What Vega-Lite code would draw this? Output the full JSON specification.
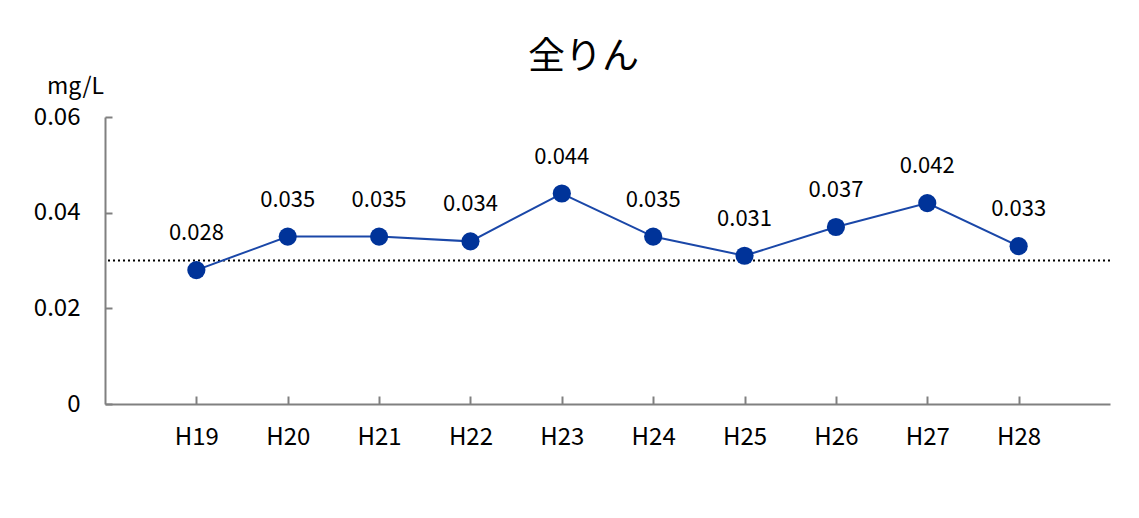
{
  "$schema": "https://vega.github.io/schema/vega-lite/v6.json",
  "width": 1005,
  "height": 287,
  "autosize": "none",
  "padding": {"left": 105, "top": 117, "right": 29, "bottom": 114},
  "background": "white",
  "config": {"view": {"stroke": null}, "font": "Noto Sans CJK JP"},
  "title": {"text": "全りん", "fontSize": 37, "fontWeight": "normal", "font": "Noto Sans CJK JP", "color": "black", "anchor": "middle", "dx": -24, "offset": -2},
  "data": {"values": [
    {"year": "H19", "value": 0.028},
    {"year": "H20", "value": 0.035},
    {"year": "H21", "value": 0.035},
    {"year": "H22", "value": 0.034},
    {"year": "H23", "value": 0.044},
    {"year": "H24", "value": 0.035},
    {"year": "H25", "value": 0.031},
    {"year": "H26", "value": 0.037},
    {"year": "H27", "value": 0.042},
    {"year": "H28", "value": 0.033}
  ]},
  "encoding": {
    "x": {"field": "year", "type": "ordinal", "scale": {"type": "point", "padding": 1},
      "axis": {"title": null, "labelAngle": 0, "labelFontSize": 24, "labelColor": "black", "labelPadding": 29, "tickSize": -8, "tickColor": "#808080", "domainColor": "#808080", "domainWidth": 2, "tickWidth": 2}},
    "y": {"field": "value", "type": "quantitative", "scale": {"domain": [0, 0.06]},
      "axis": {"values": [0, 0.02, 0.04, 0.06], "format": "~g", "labelFontSize": 24, "labelColor": "black", "labelPadding": 32, "tickSize": -7, "tickColor": "#808080", "domainColor": "#808080", "domainWidth": 2, "tickWidth": 2, "grid": false,
        "title": "mg/L", "titleAngle": 0, "titleX": -30, "titleY": -24, "titleAlign": "center", "titleBaseline": "alphabetic", "titleFontSize": 23, "titleFontWeight": "normal", "titleColor": "black"}}
  },
  "layer": [
    {"mark": {"type": "rule", "color": "black", "strokeDash": [2, 3], "strokeWidth": 2}, "data": {"values": [{"ref": 0.03}]}, "encoding": {"y": {"field": "ref", "type": "quantitative"}, "x": null}},
    {"mark": {"type": "line", "color": "#1a47a8", "strokeWidth": 2}},
    {"mark": {"type": "circle", "color": "#003399", "size": 330, "opacity": 1}},
    {"mark": {"type": "text", "dy": -37, "fontSize": 22, "color": "black"}, "encoding": {"text": {"field": "value", "type": "quantitative", "format": ".3f"}}}
  ]
}
